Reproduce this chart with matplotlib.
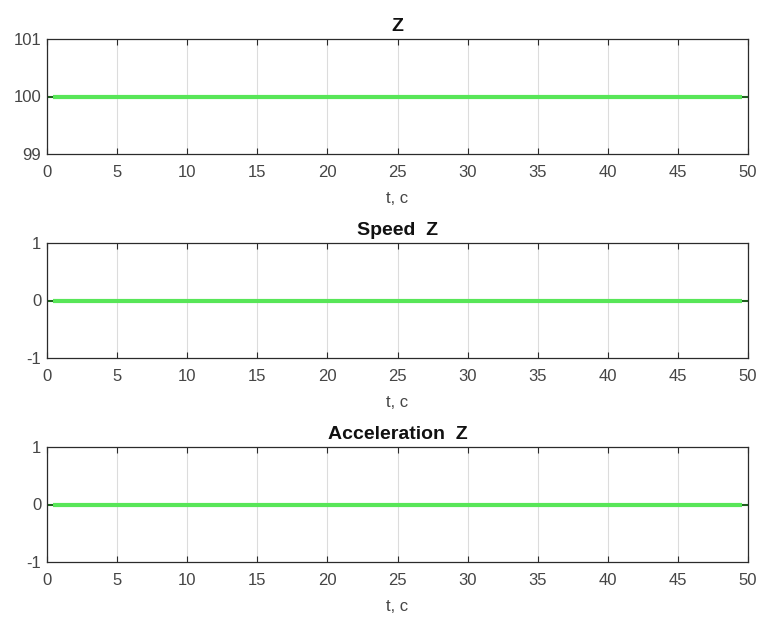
import numpy as np
import matplotlib
matplotlib.use("Agg")
import matplotlib.pyplot as plt

plt.rcParams['font.family'] = ['Liberation Sans', 'DejaVu Sans']

t_ref = [0, 50]
t_act = [0.45, 49.55]
titles = ["Z", "Speed  Z", "Acceleration  Z"]
ref_values = [[100, 100], [0, 0], [0, 0]]
act_values = [[100, 100], [0, 0], [0, 0]]
ylims = [(99, 101), (-1, 1), (-1, 1)]
yticks = [[99, 100, 101], [-1, 0, 1], [-1, 0, 1]]
ytick_labels = [["99", "100", "101"], ["-1", "0", "1"], ["-1", "0", "1"]]
xticks = list(range(0, 51, 5))
xtick_labels = [str(v) for v in xticks]
xlabel = "t, c"

fig = plt.figure(figsize=(7.62, 6.17), dpi=100)
W, H = 762, 617
left, right = 47, 748
tops = [39, 243, 447]
height = 115

txt = '#454545'
for i in range(3):
    ax = fig.add_axes([left / W, 1 - (tops[i] + height) / H, (right - left) / W, height / H])
    ax.plot(t_ref, ref_values[i], color='#1f5f1f', lw=1.5, zorder=2)
    ax.plot(t_act, act_values[i], color='#58e658', lw=3, solid_capstyle='butt', zorder=3)
    ax.set_xlim(0, 50)
    ax.set_ylim(*ylims[i])
    ax.set_xticks(xticks)
    ax.set_xticklabels(xtick_labels)
    ax.set_yticks(yticks[i])
    ax.set_yticklabels(ytick_labels[i])
    ax.grid(True, axis='x', color='#dcdcdc', lw=0.8)
    ax.set_axisbelow(True)
    for s in ax.spines.values():
        s.set_color('#2b2b2b')
        s.set_linewidth(0.9)
    ax.tick_params(direction='in', length=4, width=0.8, color='#2b2b2b',
                   labelsize=12, labelcolor=txt, top=True, right=False)
    ax.tick_params(axis='x', pad=8)
    ax.tick_params(axis='y', left=False, pad=4)
    for lab in ax.get_yticklabels():
        lab.set_verticalalignment('center_baseline')
    ax.set_title(titles[i], fontsize=14, fontweight='bold', color='#111111', pad=6)
    ax.set_xlabel(xlabel, fontsize=12, color=txt, labelpad=8)

fig.savefig("out.png", dpi=100)
